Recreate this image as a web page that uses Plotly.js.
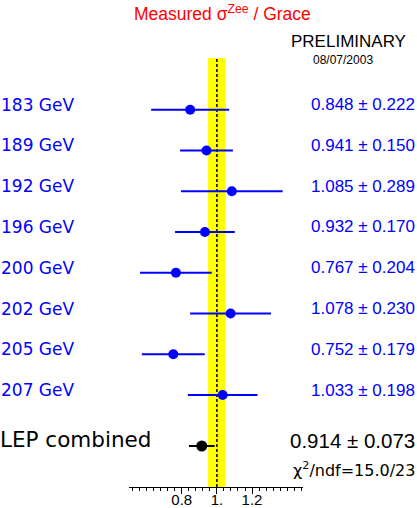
<!DOCTYPE html>
<html>
<head>
<meta charset="utf-8">
<script src="https://cdn.plot.ly/plotly-3.0.1.min.js"></script>
<style>
  html, body { margin: 0; padding: 0; background: #fff; }
  #chart { width: 417px; height: 508px; }
</style>
</head>
<body>
<div id="chart"></div>
<script>
// measured / Grace ratio per LEP energy point
const energies = ['183 GeV', '189 GeV', '192 GeV', '196 GeV', '200 GeV', '202 GeV', '205 GeV', '207 GeV'];
const ratios = [0.848, 0.941, 1.085, 0.932, 0.767, 1.078, 0.752, 1.033];
const errors = [0.222, 0.150, 0.289, 0.170, 0.204, 0.230, 0.179, 0.198];
const rowPos = [9, 8, 7, 6, 5, 4, 3, 2];

const combinedLabel = 'LEP combined';
const combinedRatio = [0.914];
const combinedError = [0.073];
const combinedPos = [0.75];
const chi2Text = 'χ<sup>2</sup>/ndf=15.0/23';

// theory band +-5% around 1
const bandLow = 0.95;
const bandHigh = 1.05;

const tickVals = [0.8, 1.0, 1.2];
const tickText = ['0.8', '1.', '1.2'];

const gothic = 'DejaVu Sans, sans-serif';
const helv = 'Liberation Sans, Arial, sans-serif';

// paper x for a pixel column (plot area spans 129..303)
function px(x) { return (x - 129) / 174; }

let graphData = [
    {
        x: ratios,
        y: rowPos,
        type: 'scatter',
        mode: 'markers',
        marker: { color: '#0000ff', size: 10 },
        error_x: { type: 'data', array: errors, color: '#0000ff', thickness: 2, width: 0 },
        hoverinfo: 'skip'
    },
    {
        x: combinedRatio,
        y: combinedPos,
        type: 'scatter',
        mode: 'markers',
        marker: { color: '#000000', size: 11 },
        error_x: { type: 'data', array: combinedError, color: '#000000', thickness: 2, width: 0 },
        hoverinfo: 'skip'
    }
];

let shapes = [
    {
        type: 'rect',
        xref: 'x', yref: 'paper',
        x0: bandLow, x1: bandHigh, y0: 0, y1: 1,
        fillcolor: '#ffff00',
        line: { width: 0 },
        layer: 'below'
    },
    {
        type: 'line',
        xref: 'x', yref: 'paper',
        x0: 1, x1: 1, y0: 0, y1: 1,
        line: { color: '#000000', width: 1.5, dash: '3px,2px' },
        layer: 'below'
    }
];

let annotations = [];

energies.forEach(function (label, i) {
    annotations.push({
        text: label,
        xref: 'paper', yref: 'y',
        x: px(-1), y: rowPos[i], yshift: 5,
        xanchor: 'left', yanchor: 'middle',
        showarrow: false,
        font: { family: gothic, size: 17, color: '#0000ff' }
    });
    annotations.push({
        text: ratios[i].toFixed(3) + ' ± ' + errors[i].toFixed(3),
        xref: 'paper', yref: 'y',
        x: px(417), y: rowPos[i], yshift: 5,
        xanchor: 'right', yanchor: 'middle',
        showarrow: false,
        font: { family: helv, size: 17, color: '#0000ff' }
    });
});

annotations.push({
    text: combinedLabel,
    xref: 'paper', yref: 'y',
    x: px(-2), y: combinedPos[0], yshift: 6,
    xanchor: 'left', yanchor: 'middle',
    showarrow: false,
    font: { family: gothic, size: 21.5, color: '#000000' }
});
annotations.push({
    text: combinedRatio[0].toFixed(3) + ' ± ' + combinedError[0].toFixed(3),
    xref: 'paper', yref: 'y',
    x: px(417), y: combinedPos[0], yshift: 5,
    xanchor: 'right', yanchor: 'middle',
    showarrow: false,
    font: { family: helv, size: 20.5, color: '#000000' }
});
annotations.push({
    text: chi2Text,
    xref: 'paper', yref: 'paper',
    x: px(417), y: (508 - 21 - 469) / 429,
    xanchor: 'right', yanchor: 'middle',
    showarrow: false,
    font: { family: gothic, size: 16, color: '#000000' }
});

// header texts
annotations.push({
    text: 'Measured σ<sup>Zee</sup> / Grace',
    xref: 'paper', yref: 'paper',
    x: px(222), y: (508 - 21 - 13) / 429,
    xanchor: 'center', yanchor: 'middle',
    showarrow: false,
    font: { family: helv, size: 17.5, color: '#ff0000' }
});
annotations.push({
    text: 'PRELIMINARY',
    xref: 'paper', yref: 'paper',
    x: px(408), y: (508 - 21 - 42) / 429,
    xanchor: 'right', yanchor: 'middle',
    showarrow: false,
    font: { family: helv, size: 17, color: '#000000' }
});
annotations.push({
    text: '08/07/2003',
    xref: 'paper', yref: 'paper',
    x: px(343), y: (508 - 21 - 60) / 429,
    xanchor: 'center', yanchor: 'middle',
    showarrow: false,
    font: { family: helv, size: 12, color: '#000000' }
});

let layout = {
    width: 417,
    height: 508,
    margin: { l: 129, r: 114, t: 58, b: 21 },
    paper_bgcolor: '#ffffff',
    plot_bgcolor: '#ffffff',
    showlegend: false,
    xaxis: {
        range: [0.5, 1.49],
        showgrid: false,
        zeroline: false,
        showline: true,
        linecolor: '#000000',
        linewidth: 1,
        ticks: 'outside',
        ticklen: 6,
        tickwidth: 1,
        tickcolor: '#000000',
        tickmode: 'array',
        tickvals: tickVals,
        ticktext: tickText,
        ticklabelstandoff: -7,
        tickfont: { family: helv, size: 15, color: '#000000' },
        minor: { dtick: 0.04, tick0: 0.52, ticks: 'outside', ticklen: 3, tickcolor: '#000000', showgrid: false },
        fixedrange: true
    },
    yaxis: {
        range: [-0.256, 10.268],
        visible: false,
        fixedrange: true
    },
    shapes: shapes,
    annotations: annotations
};

let options = {
    displayModeBar: false,
    staticPlot: true
};

Plotly.newPlot('chart', graphData, layout, options);
</script>
</body>
</html>
